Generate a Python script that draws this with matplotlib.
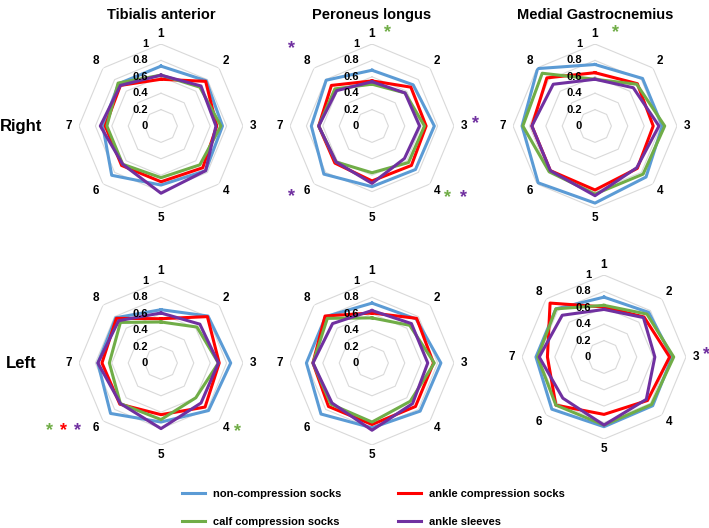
import numpy as np
import matplotlib
matplotlib.use('Agg')
import matplotlib.pyplot as plt

plt.rcParams['font.family'] = ['Liberation Sans', 'DejaVu Sans']
plt.rcParams['font.weight'] = 'bold'

spokes = ['1', '2', '3', '4', '5', '6', '7', '8']
muscles = ['Tibialis anterior', 'Peroneus longus', 'Medial Gastrocnemius']
sides = ['Right', 'Left']
series_names = ['non-compression socks', 'ankle compression socks',
                'calf compression socks', 'ankle sleeves']
colors = ['#5B9BD5', '#FF0000', '#70AD47', '#7030A0']
ring_values = [0.2, 0.4, 0.6, 0.8, 1.0]
ring_labels = ['0', '0.2', '0.4', '0.6', '0.8', '1']

# order of each panel: non-compression, ankle compression, calf compression, ankle sleeves
right_ta = [[0.73, 0.78, 0.75, 0.77, 0.72, 0.85, 0.71, 0.73],
            [0.57, 0.77, 0.68, 0.72, 0.68, 0.68, 0.68, 0.70],
            [0.62, 0.67, 0.73, 0.67, 0.63, 0.66, 0.66, 0.74],
            [0.62, 0.69, 0.67, 0.77, 0.82, 0.66, 0.74, 0.70]]
right_pl = [[0.68, 0.71, 0.76, 0.75, 0.74, 0.83, 0.74, 0.79],
            [0.55, 0.67, 0.66, 0.68, 0.67, 0.64, 0.65, 0.70],
            [0.51, 0.57, 0.64, 0.63, 0.57, 0.62, 0.65, 0.64],
            [0.54, 0.57, 0.58, 0.56, 0.70, 0.62, 0.65, 0.61]]
right_mg = [[0.75, 0.82, 0.82, 0.88, 0.94, 0.98, 0.89, 0.99],
            [0.65, 0.73, 0.71, 0.73, 0.78, 0.77, 0.77, 0.83],
            [0.57, 0.72, 0.85, 0.83, 0.83, 0.79, 0.88, 0.91],
            [0.57, 0.66, 0.78, 0.72, 0.85, 0.77, 0.77, 0.72]]
left_ta = [[0.65, 0.81, 0.85, 0.82, 0.72, 0.87, 0.77, 0.78],
           [0.54, 0.80, 0.71, 0.76, 0.63, 0.71, 0.72, 0.77],
           [0.50, 0.62, 0.70, 0.60, 0.69, 0.70, 0.63, 0.70],
           [0.61, 0.67, 0.70, 0.69, 0.80, 0.70, 0.77, 0.73]]
left_pl = [[0.73, 0.76, 0.84, 0.83, 0.79, 0.88, 0.80, 0.80],
           [0.61, 0.77, 0.75, 0.75, 0.75, 0.75, 0.72, 0.81],
           [0.55, 0.65, 0.76, 0.66, 0.72, 0.71, 0.72, 0.77],
           [0.64, 0.68, 0.68, 0.70, 0.82, 0.69, 0.72, 0.68]]
left_mg = [[0.73, 0.77, 0.83, 0.84, 0.85, 0.90, 0.83, 0.83],
           [0.61, 0.69, 0.80, 0.75, 0.70, 0.83, 0.69, 0.93],
           [0.63, 0.74, 0.85, 0.82, 0.83, 0.83, 0.81, 0.83],
           [0.58, 0.68, 0.62, 0.73, 0.83, 0.71, 0.79, 0.72]]

panels = [[right_ta, right_pl, right_mg], [left_ta, left_pl, left_mg]]

# significance stars: (row, col, spoke index, colour index, offset px from spoke label)
stars = [(0, 1, 0, 2, (16, 2)),
         (0, 1, 7, 3, (-16, 12)),
         (0, 1, 2, 3, (12, 2)),
         (0, 1, 3, 2, (11, -7)),
         (0, 1, 3, 3, (27, -7)),
         (0, 1, 5, 3, (-16, -6)),
         (0, 2, 0, 2, (20, 2)),
         (1, 0, 5, 2, (-47, -3)),
         (1, 0, 5, 1, (-33, -3)),
         (1, 0, 5, 3, (-19, -3)),
         (1, 0, 3, 2, (12, -4)),
         (1, 2, 2, 3, (11, 2))]

W, H = 709, 528
R = 82
centers = [[(161, 126), (372, 126), (595, 126)],
           [(161, 363), (372, 363), (604, 357)]]

fig = plt.figure(figsize=(W / 100, H / 100), dpi=100)

angles = np.arange(8) * 2 * np.pi / 8
closed = np.append(angles, angles[0])

axes = {}
for i in range(2):
    for j in range(3):
        cx, cy = centers[i][j]
        ax = fig.add_axes([(cx - R) / W, 1 - (cy + R) / H, 2 * R / W, 2 * R / H],
                          projection='polar')
        ax.set_theta_zero_location('N')
        ax.set_theta_direction(-1)
        ax.set_ylim(0, 1)
        ax.axis('off')
        for rv in ring_values:
            ax.plot(closed, [rv] * 9, color='#D9D9D9', lw=0.8, zorder=1)
        handles = []
        for k, vals in enumerate(panels[i][j]):
            h, = ax.plot(closed, vals + vals[:1], color=colors[k], lw=2.2,
                         label=series_names[k], zorder=2 + k)
            handles.append(h)
        for a, s in zip(angles, spokes):
            ax.text(a, 1.12, s, ha='center', va='center', fontsize=8.5,
                    fontweight='bold', clip_on=False)
        for lab in ring_labels:
            ax.annotate(lab, xy=(0, float(lab)), xytext=(-13, 0),
                        textcoords='offset pixels', ha='right', va='center',
                        fontsize=8, fontweight='bold', zorder=10)
        axes[(i, j)] = ax

for j, m in enumerate(muscles):
    fig.text(centers[0][j][0] / W, 1 - 15 / H, m, ha='center', va='center',
             fontsize=10.5, fontweight='bold')
for i, s in enumerate(sides):
    fig.text(21 / W, 1 - centers[i][0][1] / H, s, ha='center', va='center',
             fontsize=12, fontweight='bold')

for row, col, sp, ci, off in stars:
    ax = axes[(row, col)]
    ax.annotate('*', xy=(angles[sp], 1.12), xytext=off,
                textcoords='offset pixels', ha='center', va='center',
                fontsize=13, fontweight='bold', color=colors[ci],
                annotation_clip=False)

order = [0, 2, 1, 3]
fig.legend([handles[k] for k in order], [series_names[k] for k in order],
           ncol=2, loc='upper left', bbox_to_anchor=(182 / W, 1 - 489 / H),
           frameon=False, borderpad=0, borderaxespad=0,
           handlelength=2.1, handletextpad=0.7, columnspacing=5.1,
           labelspacing=1.6, prop={'weight': 'bold', 'size': 8})

fig.savefig('out.png', dpi=100)
